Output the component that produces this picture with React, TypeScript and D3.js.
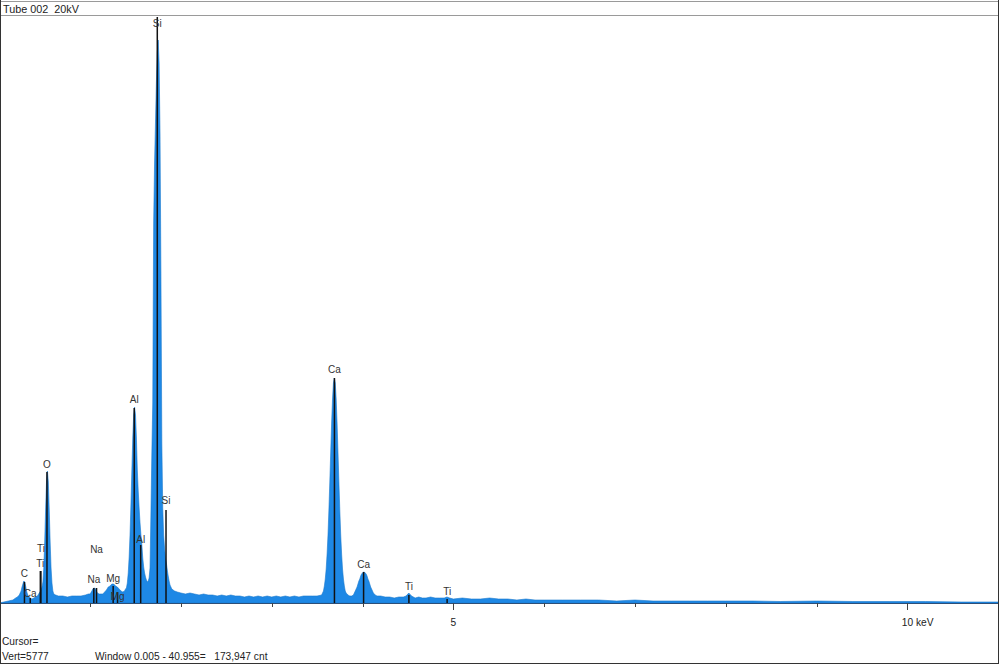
import React from "react";
import * as d3 from "d3";

// Spectrum: [energy keV, counts]
const spectrum: [number, number][] = [
  [0.0, 0], [0.05, 10], [0.1, 20], [0.15, 30], [0.18, 50], [0.2, 60], [0.22, 80], [0.24, 120],
  [0.25, 160], [0.26, 190], [0.27, 220], [0.28, 210], [0.29, 170], [0.3, 120], [0.31, 90],
  [0.32, 70], [0.34, 50], [0.36, 40], [0.38, 50], [0.4, 60], [0.42, 70], [0.44, 100], [0.46, 130],
  [0.47, 160], [0.48, 210], [0.49, 350], [0.5, 610], [0.51, 930], [0.52, 1210], [0.53, 1320],
  [0.54, 1210], [0.55, 930], [0.56, 610], [0.57, 350], [0.58, 200], [0.59, 120], [0.6, 90],
  [0.62, 80], [0.65, 70], [0.7, 70], [0.75, 60], [0.8, 70], [0.85, 70], [0.9, 70], [0.95, 80],
  [0.98, 90], [1.0, 90], [1.02, 120], [1.03, 140], [1.04, 150], [1.05, 150], [1.06, 140],
  [1.07, 120], [1.08, 100], [1.1, 90], [1.12, 90], [1.14, 90], [1.16, 110], [1.18, 130],
  [1.2, 160], [1.22, 170], [1.24, 190], [1.26, 190], [1.28, 170], [1.3, 160], [1.32, 140],
  [1.34, 120], [1.36, 110], [1.38, 120], [1.39, 140], [1.4, 150], [1.41, 200], [1.42, 300],
  [1.43, 460], [1.44, 690], [1.45, 990], [1.46, 1330], [1.47, 1650], [1.48, 1880], [1.49, 1960],
  [1.5, 1880], [1.51, 1650], [1.52, 1330], [1.53, 1120], [1.54, 950], [1.55, 800], [1.56, 680],
  [1.57, 580], [1.58, 450], [1.59, 360], [1.6, 300], [1.61, 260], [1.62, 230], [1.63, 210],
  [1.64, 220], [1.65, 250], [1.66, 350], [1.67, 900], [1.68, 1500], [1.69, 2000], [1.7, 3800],
  [1.71, 4400], [1.72, 4800], [1.73, 5200], [1.74, 5500], [1.75, 5630], [1.76, 5400], [1.77, 4700],
  [1.78, 3300], [1.79, 1600], [1.8, 950], [1.81, 680], [1.82, 550], [1.83, 450], [1.84, 400],
  [1.85, 330], [1.86, 270], [1.87, 220], [1.88, 180], [1.9, 140], [1.93, 120], [1.96, 110],
  [2.0, 100], [2.05, 90], [2.1, 100], [2.15, 90], [2.2, 80], [2.25, 90], [2.3, 80], [2.35, 80],
  [2.4, 70], [2.45, 80], [2.5, 70], [2.55, 80], [2.6, 70], [2.65, 70], [2.7, 60], [2.75, 70],
  [2.8, 60], [2.85, 70], [2.9, 60], [2.95, 70], [3.0, 60], [3.05, 70], [3.1, 60], [3.15, 70],
  [3.2, 60], [3.25, 70], [3.3, 60], [3.35, 70], [3.4, 70], [3.45, 70], [3.5, 70], [3.55, 80],
  [3.56, 100], [3.57, 120], [3.58, 170], [3.59, 240], [3.6, 340], [3.61, 490], [3.62, 680],
  [3.63, 930], [3.64, 1210], [3.65, 1510], [3.66, 1800], [3.67, 2040], [3.68, 2200], [3.69, 2250],
  [3.7, 2200], [3.71, 2040], [3.72, 1800], [3.73, 1510], [3.74, 1210], [3.75, 930], [3.76, 680],
  [3.77, 490], [3.78, 340], [3.79, 240], [3.8, 170], [3.81, 120], [3.82, 100], [3.84, 80],
  [3.86, 70], [3.88, 70], [3.9, 80], [3.91, 100], [3.92, 120], [3.93, 140], [3.94, 160],
  [3.95, 190], [3.96, 220], [3.97, 240], [3.98, 270], [3.99, 290], [4.0, 300], [4.01, 310],
  [4.02, 310], [4.03, 300], [4.04, 290], [4.05, 270], [4.06, 240], [4.07, 220], [4.08, 190],
  [4.09, 160], [4.1, 140], [4.11, 120], [4.12, 100], [4.14, 80], [4.16, 70], [4.2, 70],
  [4.25, 60], [4.3, 60], [4.35, 50], [4.4, 60], [4.45, 60], [4.48, 70], [4.5, 90], [4.51, 100],
  [4.52, 90], [4.54, 70], [4.58, 50], [4.62, 60], [4.66, 50], [4.7, 50], [4.75, 60], [4.8, 50],
  [4.85, 50], [4.9, 50], [4.93, 60], [4.96, 50], [5.0, 40], [5.1, 50], [5.2, 40], [5.3, 40],
  [5.4, 50], [5.5, 40], [5.6, 40], [5.7, 30], [5.8, 40], [5.9, 30], [6.0, 30], [6.2, 30],
  [6.4, 30], [6.6, 30], [6.8, 20], [7.0, 30], [7.2, 20], [7.4, 20], [7.6, 20], [7.8, 20],
  [8.0, 20], [8.3, 20], [8.6, 15], [9.0, 20], [9.4, 15], [9.8, 15], [10.2, 15], [10.6, 10],
  [11.0, 10],
];

// Element line markers: energy, marker height (counts), label height (counts)
const markerElements = ["C", "Ca", "Ti", "Ti", "O", "Na", "Na", "Mg", "Mg", "Al", "Al", "Si", "Si", "Ca", "Ca", "Ti", "Ti"];
const markerKeV = [0.277, 0.341, 0.452, 0.458, 0.525, 1.041, 1.071, 1.254, 1.302, 1.486, 1.557, 1.74, 1.836, 3.691, 4.012, 4.511, 4.932];
const markerLine = [210, 50, 320, 320, 1310, 150, 150, 170, 110, 1950, 580, 5860, 930, 2250, 310, 80, 40];
const markerLabel = [300, 100, 400, 550, 1390, 240, 540, 250, 70, 2040, 640, 5800, 1030, 2340, 390, 170, 120];

const tickValues = [1, 2, 3, 4, 5, 6, 7, 8, 9, 10];
const tickLabels: Record<number, string> = { 5: "5", 10: "10 keV" };

const headerText = "Tube 002  20kV";
const cursorText = "Cursor=";
const vertText = "Vert=5777";
const windowText = "Window 0.005 - 40.955=   173,947 cnt";

const YMAX = 5860;

export default function App() {
  const W = 1000;
  const H = 665;
  const x = d3.scaleLinear().domain([0, 11]).range([-0.7, 998.1]);
  const y = d3.scaleLinear().domain([0, YMAX]).range([603, 17]);
  const area = d3
    .area<[number, number]>()
    .x((d) => x(d[0]))
    .y0(y(0))
    .y1((d) => y(d[1]))
    .curve(d3.curveLinear);
  const font = "'Liberation Sans', Arial, sans-serif";
  const pre = { whiteSpace: "pre" as const };

  return (
    <svg
      width={W}
      height={H}
      style={{ position: "absolute", left: 0, top: 0, background: "#fff" }}
      fontFamily={font}
    >
      <defs>
        <clipPath id="plot">
          <rect x={1} y={16} width={997} height={588} />
        </clipPath>
      </defs>
      <rect x={0} y={0} width={W} height={H} fill="#fff" />
      {/* frame */}
      <line x1={0} x2={999} y1={1.5} y2={1.5} stroke="#9a9a9a" />
      <line x1={0} x2={999} y1={15.5} y2={15.5} stroke="#9a9a9a" />
      <line x1={0.5} x2={0.5} y1={0} y2={664} stroke="#333" />
      <line x1={998.5} x2={998.5} y1={0} y2={664} stroke="#333" />
      <line x1={0} x2={999} y1={663.5} y2={663.5} stroke="#333" />
      <text x={3} y={12.5} fontSize={10.8} fill="#222" style={pre}>{headerText}</text>

      <g clipPath="url(#plot)">
        <path d={area(spectrum) || ""} fill="#1e88e5" stroke="#1a78cc" strokeWidth={0.6} />
        {markerKeV.map((e, i) => (
          <line
            key={"m" + i}
            x1={x(e)}
            x2={x(e)}
            y1={y(0)}
            y2={y(markerLine[i])}
            stroke="#111"
            strokeWidth={1.5}
          />
        ))}
      </g>
      {markerKeV.map((e, i) => (
        <text
          key={"l" + i}
          x={x(e)}
          y={Math.max(y(markerLabel[i]), 23)}
          fontSize={10}
          fill="#333"
          textAnchor="middle"
          dominantBaseline="central"
        >
          {markerElements[i]}
        </text>
      ))}

      {/* axis */}
      <line x1={1} x2={998} y1={603.5} y2={603.5} stroke="#2d4f78" />
      {tickValues.map((t) => (
        <line
          key={"t" + t}
          x1={Math.round(x(t)) + 0.5}
          x2={Math.round(x(t)) + 0.5}
          y1={603}
          y2={tickLabels[t] ? 610 : 607}
          stroke="#444"
        />
      ))}
      {tickValues
        .filter((t) => tickLabels[t])
        .map((t) => (
          <text
            key={"tl" + t}
            x={t === 10 ? x(t) - 5.5 : x(t)}
            y={626}
            fontSize={10.2}
            fill="#222"
            textAnchor={t === 10 ? "start" : "middle"}
          >
            {tickLabels[t]}
          </text>
        ))}

      <text x={2} y={645} fontSize={10.2} fill="#222" style={pre}>{cursorText}</text>
      <text x={2} y={660} fontSize={10.2} fill="#222" style={pre}>{vertText}</text>
      <text x={95} y={660} fontSize={10.2} fill="#222" style={pre}>{windowText}</text>
    </svg>
  );
}
